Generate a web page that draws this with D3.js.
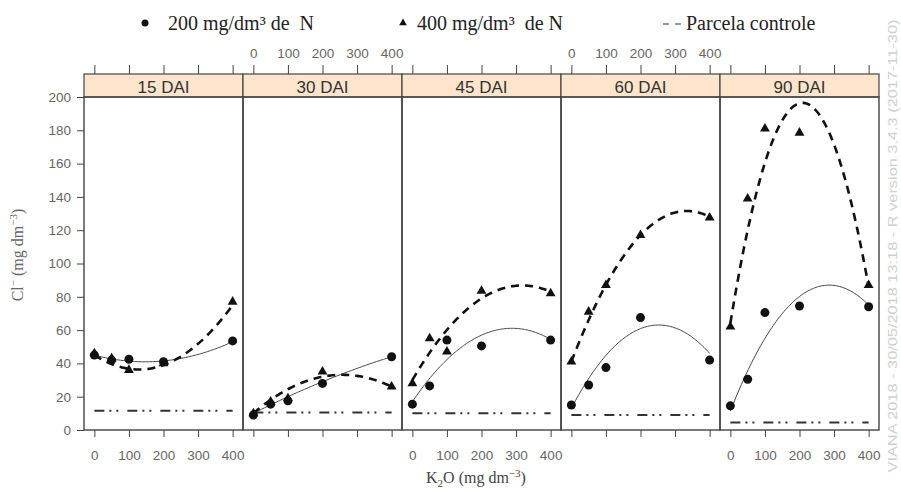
<!DOCTYPE html>
<html><head><meta charset="utf-8">
<script src="https://cdn.jsdelivr.net/npm/d3@7"></script>
<style>body{margin:0;background:#fff}</style>
</head><body>
<script>
// ---- data ----
const panels = ["15 DAI", "30 DAI", "45 DAI", "60 DAI", "90 DAI"];
const doses = [0, 50, 100, 200, 400];
const xTicks = [0, 100, 200, 300, 400];
const yTicks = [0, 20, 40, 60, 80, 100, 120, 140, 160, 180, 200];
// Cl- means, 200 mg/dm3 N
const n200 = [
  [45, 42, 42.5, 41, 53.5],
  [9, 15.5, 17.5, 28, 44],
  [15.5, 26.5, 54, 50.5, 54],
  [15, 27, 37.5, 67.5, 42],
  [14.5, 30.5, 70.5, 74.5, 74]
];
// Cl- means, 400 mg/dm3 N
const n400 = [
  [46, 43, 36, 40, 77],
  [10, 17, 19, 35, 26],
  [28, 55, 47, 83.5, 82],
  [41, 71, 87, 117, 127.5],
  [62, 139, 181, 178.5, 87]
];
// control plot level
const control = [11.5, 10.5, 10, 9, 4.5];
// fitted quadratic models [b0, b1, b2]
const fit200 = [
  [45, -0.055, 0.0001875],
  [10, 0.105, -0.00005],
  [17, 0.306, -0.000531],
  [13.04, 0.3958, -0.000783],
  [11.38, 0.5287, -0.000924]
];
const fit400 = [
  [45, -0.135, 0.000525],
  [10, 0.18, -0.00035],
  [30, 0.3575, -0.0005625],
  [41, 0.5425, -0.0008125],
  [64.2, 1.266, -0.003029]
];
const legendLabels = ["200 mg/dm\u00b3 de  N", "400 mg/dm\u00b3  de N", "Parcela controle"];

// ---- drawing ----
const W = 901, H = 491;
const serif = "'Liberation Serif', 'Times New Roman', serif";
const sans = "'Liberation Sans', Arial, sans-serif";
const svg = d3.select("body").append("svg")
  .attr("width", W).attr("height", H).style("display", "block");

const stripTop = 74, plotTop = 97, plotBottom = 430;
const band = d3.scaleBand().domain(panels).range([84, 879]).padding(0);
const y = d3.scaleLinear().domain([0, 200]).range([plotBottom, plotTop]);
const quad = (c, x) => c[0] + c[1] * x + c[2] * x * x;
const xs = d3.range(0, 400.01, 4);

function styleAxis(g) {
  g.select(".domain").remove();
  g.selectAll(".tick line").attr("stroke", "#444").attr("stroke-width", 1);
  g.selectAll(".tick text").attr("fill", "#666")
    .style("font-family", sans).style("font-size", "13.5px");
}

panels.forEach((p, i) => {
  const x0 = band(p), w = band.bandwidth();
  const x = d3.scaleLinear().domain([-30, 430]).range([x0, x0 + w]);
  const g = svg.append("g");

  // strip
  g.append("rect").attr("x", x0).attr("y", stripTop)
    .attr("width", w).attr("height", plotTop - stripTop)
    .attr("fill", "#FFE5CC").attr("stroke", "#444").attr("stroke-width", 1.2);
  g.append("text").attr("x", x0 + w / 2).attr("y", 92.5)
    .attr("text-anchor", "middle").attr("fill", "#333")
    .style("font-family", sans).style("font-size", "17px").text(p);

  // panel box
  g.append("rect").attr("x", x0).attr("y", plotTop)
    .attr("width", w).attr("height", plotBottom - plotTop)
    .attr("fill", "none").attr("stroke", "#444").attr("stroke-width", 1.4);

  // bottom axis
  const gb = g.append("g").attr("transform", `translate(0,${plotBottom})`)
    .call(d3.axisBottom(x).tickValues(xTicks).tickSize(7).tickPadding(13));
  styleAxis(gb);
  if (i % 2 === 1) gb.selectAll(".tick text").remove();

  // top axis
  const gt = g.append("g").attr("transform", `translate(0,${stripTop})`)
    .call(d3.axisTop(x).tickValues(xTicks).tickSize(9).tickPadding(7));
  styleAxis(gt);
  if (i % 2 === 0) gt.selectAll(".tick text").remove();

  // control line
  g.append("path")
    .attr("d", d3.line().x(d => x(d)).y(() => y(control[i]))([0, 400]))
    .attr("fill", "none").attr("stroke", "#333").attr("stroke-width", 2)
    .attr("stroke-dasharray", "10,5,2,5,2,9");

  // fitted curves
  const line = c => d3.line().x(d => x(d)).y(d => y(quad(c, d)))(xs);
  g.append("path").attr("d", line(fit200[i]))
    .attr("fill", "none").attr("stroke", "#444").attr("stroke-width", 1);
  g.append("path").attr("d", line(fit400[i]))
    .attr("fill", "none").attr("stroke", "#111").attr("stroke-width", 2.6)
    .attr("stroke-dasharray", "8,6");

  // points
  g.selectAll(".c200").data(doses.map((d, k) => [d, n200[i][k]])).join("circle")
    .attr("cx", d => x(d[0])).attr("cy", d => y(d[1])).attr("r", 4.5).attr("fill", "#111");
  g.selectAll(".t400").data(doses.map((d, k) => [d, n400[i][k]])).join("path")
    .attr("transform", d => `translate(${x(d[0])},${y(d[1])})`)
    .attr("d", d3.symbol(d3.symbolTriangle, 42)()).attr("fill", "#111");
});

// y axis
const gy = svg.append("g").attr("transform", `translate(84,0)`)
  .call(d3.axisLeft(y).tickValues(yTicks).tickSize(7).tickPadding(6));
styleAxis(gy);

// y title
const yt = svg.append("text").attr("transform", "translate(23,255) rotate(-90)")
  .attr("text-anchor", "middle").attr("fill", "#666")
  .style("font-family", serif).style("font-size", "16px");
yt.append("tspan").text("Cl");
yt.append("tspan").attr("dy", -6).style("font-size", "11px").text("\u2212");
yt.append("tspan").attr("dy", 6).text(" (mg dm");
yt.append("tspan").attr("dy", -6).style("font-size", "11px").text("\u22123");
yt.append("tspan").attr("dy", 6).text(")");

// x title
const xt = svg.append("text").attr("x", 476).attr("y", 483)
  .attr("text-anchor", "middle").attr("fill", "#444")
  .style("font-family", serif).style("font-size", "16px");
xt.append("tspan").text("K");
xt.append("tspan").attr("dy", 4).style("font-size", "11px").text("2");
xt.append("tspan").attr("dy", -4).text("O (mg dm");
xt.append("tspan").attr("dy", -6).style("font-size", "11px").text("\u22123");
xt.append("tspan").attr("dy", 6).text(")");

// legend
const lg = svg.append("g");
lg.append("circle").attr("cx", 145).attr("cy", 23).attr("r", 3.5).attr("fill", "#111");
lg.append("text").attr("x", 168).attr("y", 29.5).attr("fill", "#222")
  .style("font-family", serif).style("font-size", "20px").style("white-space", "pre")
  .text(legendLabels[0]);
lg.append("path").attr("transform", "translate(403,23)")
  .attr("d", d3.symbol(d3.symbolTriangle, 26)()).attr("fill", "#111");
lg.append("text").attr("x", 417).attr("y", 29.5).attr("fill", "#222")
  .style("font-family", serif).style("font-size", "20px").style("white-space", "pre")
  .text(legendLabels[1]);
lg.append("path").attr("d", d3.line()([[663, 24], [681, 24]]))
  .attr("stroke", "#333").attr("stroke-width", 1.2).attr("stroke-dasharray", "6,6");
lg.append("text").attr("x", 686).attr("y", 29.5).attr("fill", "#222")
  .style("font-family", serif).style("font-size", "20px")
  .text(legendLabels[2]);

// watermark
svg.append("text").attr("transform", "translate(897,246) rotate(-90)")
  .attr("text-anchor", "middle").attr("fill", "#cfcfcf")
  .attr("textLength", 453).attr("lengthAdjust", "spacingAndGlyphs")
  .style("font-family", sans).style("font-size", "13px")
  .text("VIANA 2018 - 30/05/2018 13:18 - R version 3.4.3 (2017-11-30)");
</script>
</body></html>
